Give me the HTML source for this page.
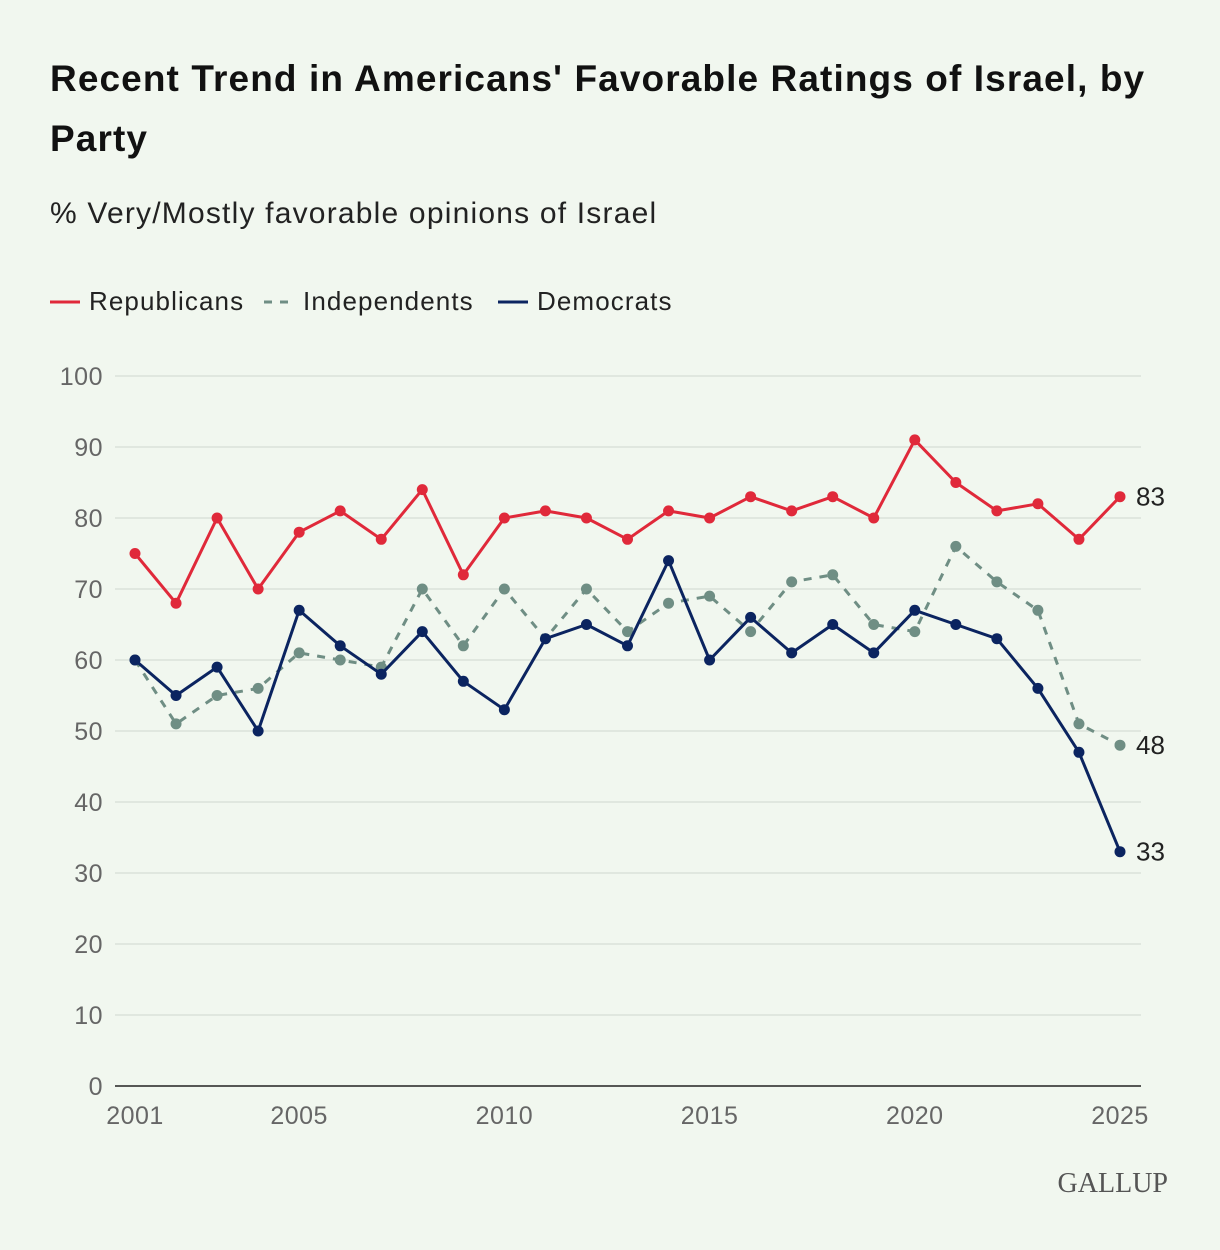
<!DOCTYPE html>
<html><head><meta charset="utf-8">
<style>
body{margin:0;background:#f1f7ef;font-family:"Liberation Sans",sans-serif;}
#wrap{position:relative;width:1220px;height:1250px;overflow:hidden;background:#f1f7ef;}
h1{position:absolute;left:50px;top:49px;margin:0;width:1160px;font-size:37px;line-height:60px;font-weight:bold;color:#111;letter-spacing:1.1px;}
#sub{position:absolute;left:50px;top:197px;font-size:30px;color:#222;letter-spacing:1.2px;}
svg{position:absolute;left:0;top:0;}
</style></head><body>
<div id="wrap">
<h1>Recent Trend in Americans' Favorable Ratings of Israel, by<br>Party</h1>
<div id="sub">% Very/Mostly favorable opinions of Israel</div>
<svg id="chart" width="1220" height="1250"></svg>
</div>
<script>
const years=[2001,2002,2003,2004,2005,2006,2007,2008,2009,2010,2011,2012,2013,2014,2015,2016,2017,2018,2019,2020,2021,2022,2023,2024,2025];
const republicans=[75,68,80,70,78,81,77,84,72,80,81,80,77,81,80,83,81,83,80,91,85,81,82,77,83];
const independents=[60,51,55,56,61,60,59,70,62,70,63,70,64,68,69,64,71,72,65,64,76,71,67,51,48];
const democrats=[60,55,59,50,67,62,58,64,57,53,63,65,62,74,60,66,61,65,61,67,65,63,56,47,33];
const yTicks=[0,10,20,30,40,50,60,70,80,90,100];
const xTicks=[2001,2005,2010,2015,2020,2025];
const NS='http://www.w3.org/2000/svg';
const svg=document.getElementById('chart');
const X=y=>135+(y-2001)*(1120-135)/24;
const Y=v=>1086-v*7.1;
function mk(t,a,p){const e=document.createElementNS(NS,t);for(const k in a)e.setAttribute(k,a[k]);(p||svg).appendChild(e);return e;}
yTicks.forEach(v=>{
  const l=mk('line',{x1:115,x2:1141,y1:Y(v),y2:Y(v),stroke:v===0?'#222':'#d6ddd5','stroke-width':v===0?1.5:1.2});
  
  
  const t=mk('text',{x:103,y:Y(v)+9,'text-anchor':'end','font-size':25,fill:'#666','font-family':'Liberation Sans','letter-spacing':0.5});
  t.textContent=v;
  
  
});
xTicks.forEach(yr=>{
  const t=mk('text',{x:X(yr),y:1124,'text-anchor':'middle','font-size':25,fill:'#666','font-family':'Liberation Sans','letter-spacing':0.5});
  t.textContent=yr;
  
  
});
const series=[
 {name:'republicans',data:republicans,color:'#e0293a',dash:null},
 {name:'independents',data:independents,color:'#6f8e84',dash:'8 8'},
 {name:'democrats',data:democrats,color:'#0b2460',dash:null}];
series.forEach(s=>{
  const g=mk('g',{});
  
  
  const d=s.data.map((v,i)=>(i?'L':'M')+X(years[i])+','+Y(v)).join('');
  const p=mk('path',{d:d,fill:'none',stroke:s.color,'stroke-width':3,'stroke-linejoin':'round'},g);
  if(s.dash)p.setAttribute('stroke-dasharray',s.dash);
  
  
  s.data.forEach((v,i)=>{
    const c=mk('circle',{cx:X(years[i]),cy:Y(v),r:5.5,fill:s.color},g);
    
    
  });
  const last=s.data[s.data.length-1];
  const t=mk('text',{x:1136,y:Y(last)+9,'font-size':26,fill:'#222','font-family':'Liberation Sans'},g);
  t.textContent=last;
  
  
});
const legend=[['Republicans','#e0293a',null,50],['Independents','#6f8e84','8 8',264],['Democrats','#0b2460',null,498]];
legend.forEach(l=>{
  const g=mk('g',{});
  
  
  const ln=mk('line',{x1:l[3],x2:l[3]+30,y1:302,y2:302,stroke:l[1],'stroke-width':3},g);
  if(l[2])ln.setAttribute('stroke-dasharray','8 8');
  const t=mk('text',{x:l[3]+39,y:310,'font-size':26,fill:'#222','font-family':'Liberation Sans','letter-spacing':1.1},g);
  t.textContent=l[0];
});
const gl=mk('text',{x:1168,y:1192,'text-anchor':'end','font-size':28,fill:'#555','font-family':'Liberation Serif'});
gl.textContent='GALLUP';


</script>
</body></html>
